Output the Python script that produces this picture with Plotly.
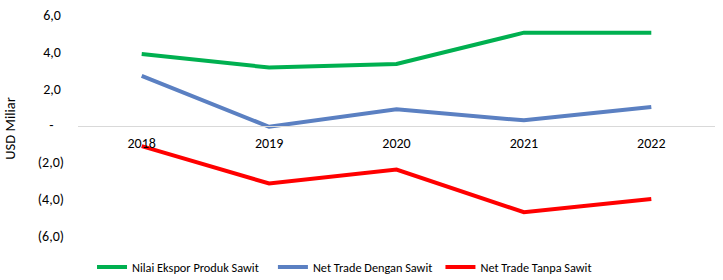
import plotly.graph_objects as go

years = ["2018", "2019", "2020", "2021", "2022"]
ekspor_sawit = [3.88, 3.15, 3.34, 5.04, 5.04]
net_dengan_sawit = [2.70, -0.07, 0.88, 0.28, 1.01]
net_tanpa_sawit = [-1.12, -3.15, -2.39, -4.71, -3.99]

series_names = ["Nilai Ekspor Produk Sawit", "Net Trade Dengan Sawit", "Net Trade Tanpa Sawit"]
y_tickvals = [6, 4, 2, 0, -2, -4, -6]
y_ticktext = ["6,0\u2008", "4,0\u2008", "2,0\u2008", "-\u2007\u2008", "(2,0)", "(4,0)", "(6,0)"]

FONT = "Carlito, Calibri, Lato, sans-serif"

fig = go.Figure()
fig.add_trace(go.Scatter(x=years, y=ekspor_sawit, mode="lines", name=series_names[0],
                         line=dict(color="#00B050", width=4), legend="legend"))
fig.add_trace(go.Scatter(x=years, y=net_dengan_sawit, mode="lines", name=series_names[1],
                         line=dict(color="#5B80C2", width=4), legend="legend2"))
fig.add_trace(go.Scatter(x=years, y=net_tanpa_sawit, mode="lines", name=series_names[2],
                         line=dict(color="#FF0000", width=4), legend="legend3"))

leg_common = dict(orientation="h", yanchor="middle", y=-0.14, xanchor="left",
                  font=dict(family=FONT, size=12.3, color="#000000"),
                  bgcolor="rgba(0,0,0,0)", borderwidth=0)

fig.update_layout(
    width=723, height=280,
    margin=dict(l=78, r=8, t=15, b=44, autoexpand=False),
    plot_bgcolor="white", paper_bgcolor="white",
    font=dict(family=FONT, color="#000000"),
    showlegend=True,
    legend=dict(x=0.022, **leg_common),
    legend2=dict(x=0.306, **leg_common),
    legend3=dict(x=0.569, **leg_common),
    xaxis=dict(type="category", anchor="free", position=0.5,
               showline=True, linecolor="#D9D9D9", linewidth=1,
               showgrid=False, zeroline=False, ticks="",
               ticklabelstandoff=5,
               tickfont=dict(family=FONT, size=14, color="#000000"),
               range=[-0.5, 4.5], fixedrange=True),
    yaxis=dict(range=[-6, 6], tickvals=y_tickvals, ticktext=y_ticktext,
               showgrid=False, zeroline=False, showline=False, ticks="",
               ticklabelstandoff=13,
               tickfont=dict(family=FONT, size=14, color="#000000"),
               fixedrange=True),
    annotations=[dict(text="USD Miliar", xref="paper", yref="paper",
                      x=-0.1068, y=0.49, textangle=-90, showarrow=False,
                      xanchor="center", yanchor="middle",
                      font=dict(family=FONT, size=14.5, color="#000000"))],
)

fig.write_html("out.html")
